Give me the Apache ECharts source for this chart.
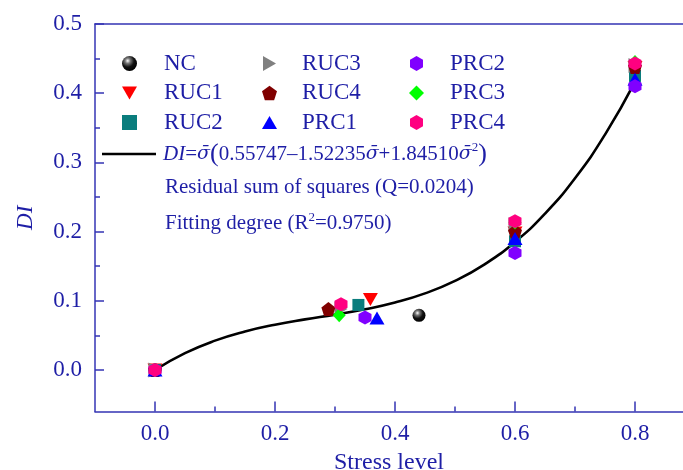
<!DOCTYPE html>
<html>
<head>
<meta charset="utf-8">
<script src="https://cdn.jsdelivr.net/npm/echarts@6/dist/echarts.min.js"></script>
<style>
  html, body { margin: 0; padding: 0; background: #fff; }
  #chart { width: 683px; height: 470px; }
</style>
</head>
<body>
<div id="chart"></div>
<script>
// Damage index DI versus stress level for each specimen group
const NC   = [[0, 0], [0.44, 0.079]];
const RUC1 = [[0, 0], [0.359, 0.102], [0.6, 0.198], [0.8, 0.437]];
const RUC2 = [[0, 0], [0.339, 0.094], [0.6, 0.186], [0.8, 0.425]];
const RUC3 = [[0, 0], [0.31, 0.088], [0.6, 0.21], [0.8, 0.44]];
const RUC4 = [[0, 0], [0.289, 0.088], [0.6, 0.2], [0.8, 0.438]];
const PRC1 = [[0, 0], [0.37, 0.075], [0.6, 0.19], [0.8, 0.42]];
const PRC2 = [[0, 0], [0.35, 0.076], [0.6, 0.169], [0.8, 0.41]];
const PRC3 = [[0, 0], [0.307, 0.079], [0.6, 0.213], [0.8, 0.445]];
const PRC4 = [[0, 0], [0.31, 0.095], [0.6, 0.215], [0.8, 0.443]];

// Fitted curve DI = s(0.55747 - 1.52235 s + 1.84510 s^2), sampled along stress level
const fitStress = [0, 0.05, 0.1, 0.15, 0.2, 0.25, 0.3, 0.35, 0.4, 0.45, 0.5, 0.55, 0.6, 0.65, 0.7, 0.75, 0.8];
const fitDI     = [0, 0.0243, 0.0424, 0.0556, 0.0654, 0.0731, 0.0800, 0.0877, 0.0975, 0.1107, 0.1288, 0.1531, 0.1850, 0.2259, 0.2771, 0.3402, 0.4164];

// Axis ticks and labels
const xMajor = [0, 0.2, 0.4, 0.6, 0.8];
const xMinor = [0.1, 0.3, 0.5, 0.7, 0.9];
const xLabels = [0, 0.2, 0.4, 0.6, 0.8];
const yMajor = [0, 0.1, 0.2, 0.3, 0.4, 0.5];
const yMinor = [0.05, 0.15, 0.25, 0.35, 0.45];

const FONT = 'Liberation Serif';
const BLUE_TXT = '#1e1ea6';
const BLUE_LINE = '#3434b4';

const paths = {
  down: 'path://M0,0L10,0L5,8.7Z',
  right: 'path://M0,0L8.7,5L0,10Z',
  up: 'path://M5,0L10,8.7L0,8.7Z',
  pentagon: 'path://M5,0L10,3.63L8.09,9.51L1.91,9.51L0,3.63Z',
  hexagon: 'path://M5,0L9.33,2.5L9.33,7.5L5,10L0.67,7.5L0.67,2.5Z'
};

const ballColor = {
  type: 'radial', x: 0.38, y: 0.32, r: 0.7,
  colorStops: [{ offset: 0, color: '#ffffff' }, { offset: 0.25, color: '#777777' }, { offset: 0.6, color: '#111111' }, { offset: 1, color: '#000000' }]
};

function scatter(name, data, symbol, size, color) {
  return {
    name: name, type: 'scatter', data: data,
    symbol: symbol, symbolSize: size,
    itemStyle: { color: color, opacity: 1 },
    emphasis: { disabled: true },
    z: 3
  };
}

const fitPoints = fitStress.map((s, i) => [s, fitDI[i]]);

const series = [
  {
    name: 'fit', type: 'line', data: fitPoints, smooth: true,
    symbol: 'none', showSymbol: false,
    lineStyle: { color: '#000', width: 2.6 },
    itemStyle: { color: '#000' },
    emphasis: { disabled: true },
    z: 2
  },
  scatter('NC', NC, 'circle', 13, ballColor),
  scatter('RUC1', RUC1, paths.down, [15, 13], '#ff0000'),
  scatter('RUC2', RUC2, 'rect', 12, '#0a7d7d'),
  scatter('RUC3', RUC3, paths.right, [13, 15], '#808080'),
  scatter('RUC4', RUC4, paths.pentagon, 14, '#800000'),
  scatter('PRC1', PRC1, paths.up, [15, 13], '#0000ff'),
  scatter('PRC2', PRC2, paths.hexagon, [13, 14], '#8000ff'),
  scatter('PRC3', PRC3, 'diamond', [13, 14], '#00ff00'),
  scatter('PRC4', PRC4, paths.hexagon, [13, 14], '#ff0080')
];

function legendCol(names, left, pad) {
  return {
    data: names, orient: 'vertical', left: left, top: 47,
    itemWidth: 15, itemHeight: 15, itemGap: 6.5,
    selectedMode: false,
    textStyle: { fontFamily: FONT, fontSize: 23, color: BLUE_TXT, lineHeight: 23, padding: [0, 0, 0, pad] }
  };
}

const sigma = { fontFamily: 'DejaVu Serif', fontSize: 19, fontStyle: 'italic', color: BLUE_TXT };

const option = {
  animation: false,
  backgroundColor: '#ffffff',
  grid: { left: 95, top: 24, width: 600, height: 387.5, outerBoundsMode: 'none', containLabel: false },
  xAxis: [
    {
      type: 'value', position: 'bottom', min: -0.1, max: 0.9,
      name: 'Stress level', nameLocation: 'middle', nameGap: 31,
      nameTextStyle: { fontFamily: FONT, fontSize: 24, color: BLUE_TXT, padding: [0, 12, 0, 0] },
      axisLine: { show: true, onZero: false, lineStyle: { color: BLUE_LINE, width: 1.5 } },
      axisTick: { show: true, inside: true, length: 10, customValues: xMajor, lineStyle: { color: BLUE_LINE, width: 1.5 } },
      axisLabel: { customValues: xLabels, margin: 11, fontFamily: FONT, fontSize: 23, color: BLUE_TXT, formatter: v => v.toFixed(1) },
      splitLine: { show: false }
    },
    {
      type: 'value', position: 'bottom', min: -0.1, max: 0.9,
      axisLine: { show: false, onZero: false },
      axisTick: { show: true, inside: true, length: 5, customValues: xMinor, lineStyle: { color: BLUE_LINE, width: 1.5 } },
      axisLabel: { show: false },
      splitLine: { show: false }
    },
    {
      type: 'value', position: 'top', min: -0.1, max: 0.9,
      axisLine: { show: true, onZero: false, lineStyle: { color: BLUE_LINE, width: 1.5 } },
      axisTick: { show: false }, axisLabel: { show: false }, splitLine: { show: false }
    }
  ],
  yAxis: [
    {
      type: 'value', position: 'left', min: -0.06, max: 0.5,
      name: 'DI', nameLocation: 'middle', nameGap: 58,
      nameTextStyle: { fontFamily: FONT, fontSize: 23, fontStyle: 'italic', color: BLUE_TXT },
      axisLine: { show: true, onZero: false, lineStyle: { color: BLUE_LINE, width: 1.5 } },
      axisTick: { show: true, inside: true, length: 9, customValues: yMajor, lineStyle: { color: BLUE_LINE, width: 1.5 } },
      axisLabel: { customValues: yMajor, margin: 13, fontFamily: FONT, fontSize: 23, color: BLUE_TXT, formatter: v => v.toFixed(1) },
      splitLine: { show: false }
    },
    {
      type: 'value', position: 'left', min: -0.06, max: 0.5,
      axisLine: { show: false, onZero: false },
      axisTick: { show: true, inside: true, length: 5, customValues: yMinor, lineStyle: { color: BLUE_LINE, width: 1.5 } },
      axisLabel: { show: false },
      splitLine: { show: false }
    }
  ],
  legend: [
    legendCol(['NC', 'RUC1', 'RUC2'], 117, 22),
    legendCol(['RUC3', 'RUC4', 'PRC1'], 257, 20),
    legendCol(['PRC2', 'PRC3', 'PRC4'], 404, 21),
    {
      data: [{ name: 'fit', icon: 'rect' }], left: 97, top: 136,
      itemWidth: 54, itemHeight: 2.6, selectedMode: false,
      formatter: () => '{i|DI}={s|σ̄}{p|(}0.55747–1.52235{s|σ̄}+1.84510{s|σ̄}{u|2}{p|)}',
      textStyle: {
        fontFamily: FONT, fontSize: 21, color: BLUE_TXT, lineHeight: 26, padding: [0, 0, 0, 2],
        rich: {
          i: { fontFamily: FONT, fontSize: 21, fontStyle: 'italic', color: BLUE_TXT },
          s: sigma,
          u: { fontFamily: FONT, fontSize: 13, color: BLUE_TXT, padding: [0, 0, 12, 0] },
          p: { fontFamily: FONT, fontSize: 26, color: BLUE_TXT }
        }
      }
    }
  ],
  graphic: [
    {
      type: 'text', left: 165, top: 177,
      style: { text: 'Residual sum of squares (Q=0.0204)', font: '21px "Liberation Serif"', fill: BLUE_TXT }
    },
    {
      type: 'text', left: 165, top: 211,
      style: {
        text: 'Fitting degree (R{u|2}=0.9750)', font: '21px "Liberation Serif"', fill: BLUE_TXT,
        rich: { u: { fontFamily: FONT, fontSize: 13, fill: BLUE_TXT, padding: [0, 0, 11, 0] } }
      }
    }
  ],
  series: series
};

const chart = echarts.init(document.getElementById('chart'), null, { renderer: 'canvas' });
chart.setOption(option);
</script>
</body>
</html>
